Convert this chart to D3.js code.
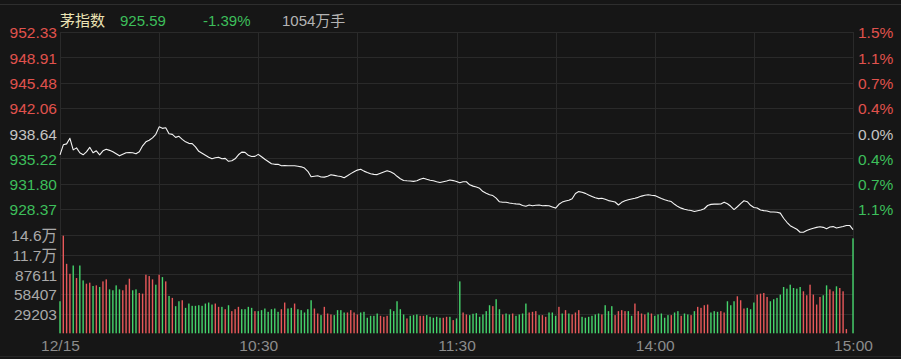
<!DOCTYPE html>
<html lang="zh">
<head>
<meta charset="UTF-8">
<title>茅指数 分时</title>
<style>
    body {
        margin: 0;
        background: #161616;
    }
    svg text {
        font-family: "Liberation Sans", Arial, "Noto Sans CJK SC", sans-serif;
    }
</style>
<script src="https://d3js.org/d3.v7.min.js"></script>
</head>
<body>
<script>

// ---- data ----
const prevClose = 938.64;

const prices = [
    935.71, 937.06, 937.19, 937.94, 936.38, 936.65, 935.98, 935.71, 936.11, 936.72,
    935.98, 936.25, 935.71, 936.25, 936.45, 936.31, 936.11, 935.84, 935.57, 935.77,
    935.98, 936.02, 935.98, 935.84, 936.11, 936.92, 937.46, 937.67, 938.00, 938.48,
    939.49, 939.29, 939.36, 938.55, 938.48, 938.07, 938.21, 937.80, 937.46, 937.26,
    937.22, 936.79, 936.18, 935.91, 935.64, 935.37, 935.17, 935.30, 935.37, 935.17,
    935.23, 934.83, 934.90, 935.17, 935.71, 936.07, 936.04, 935.64, 935.48, 935.50,
    935.77, 935.44, 935.10, 934.80, 934.49, 934.42, 934.42, 934.22, 934.26, 934.22,
    934.22, 934.22, 934.15, 934.08, 933.91, 933.48, 932.73, 932.80, 932.87, 932.70,
    932.69, 932.80, 933.00, 932.93, 932.84, 932.77, 932.60, 932.87, 933.16, 933.41,
    933.64, 933.75, 933.50, 933.30, 933.14, 933.06, 933.03, 933.20, 933.37, 933.54,
    933.41, 933.19, 932.80, 932.46, 932.23, 932.19, 932.16, 932.11, 932.19, 932.39,
    932.54, 932.39, 932.26, 932.19, 932.06, 931.96, 932.06, 932.16, 932.29, 932.22,
    932.10, 931.92, 932.06, 932.06, 931.65, 931.47, 931.34, 931.18, 930.74, 930.50,
    930.30, 930.19, 929.85, 929.35, 929.28, 929.28, 929.18, 929.11, 929.07, 929.04,
    928.84, 928.74, 928.91, 928.81, 928.89, 928.91, 928.81, 928.84, 928.81, 928.65,
    928.50, 929.01, 929.31, 929.46, 929.55, 929.76, 930.47, 930.73, 930.64, 930.49,
    930.26, 930.07, 929.89, 929.78, 929.82, 929.69, 929.51, 929.42, 929.32, 928.92,
    929.28, 929.49, 929.62, 929.73, 929.82, 929.95, 930.12, 930.23, 930.30, 930.23,
    930.19, 930.00, 929.80, 929.62, 929.49, 929.38, 929.01, 928.70, 928.49, 928.34,
    928.24, 928.18, 928.04, 928.14, 928.24, 928.41, 928.85, 929.00, 929.04, 929.04,
    929.05, 929.30, 929.08, 928.74, 928.30, 928.68, 929.11, 929.49, 929.36, 928.88,
    928.57, 928.51, 928.23, 928.15, 928.11, 927.97, 927.96, 927.93, 927.82, 927.12,
    926.58, 926.11, 925.86, 925.63, 925.23, 925.23, 925.46, 925.63, 925.77, 925.89,
    925.97, 925.89, 925.70, 925.93, 925.99, 925.80, 925.90, 926.00, 926.15, 926.15,
    925.59
];

const volumes = [
    47600, 145000, 103200, 88400, 100700, 82100, 100700, 78600, 73700, 75200,
    70300, 71200, 68800, 77100, 80100, 65300, 63900, 71200, 65300, 63900,
    72200, 81100, 63900, 65300, 59900, 58900, 87000, 85000, 80100, 72200,
    87000, 83500, 77100, 55500, 52600, 40300, 47600, 49100, 37800, 44200,
    40800, 40800, 41700, 40800, 44200, 45700, 42700, 44200, 39300, 39300,
    35800, 41700, 32900, 35800, 39300, 35800, 35800, 39300, 37800, 32900,
    32900, 34400, 36800, 31900, 35800, 36800, 31900, 35800, 45700, 36800,
    37800, 44200, 35800,
    34400, 30900, 35800, 49100, 36800, 29400, 27000, 39300, 29400, 28000,
    27000, 34400, 34400, 30900, 30900, 34400, 30900, 28000, 30900, 31900,
    23100, 26000, 26000, 29400, 26000, 24500, 26000, 35800, 32900, 47600,
    35800, 28000, 22100, 26000, 27000, 28000, 26000, 26000, 27000, 24500,
    23100, 24500, 23100, 23100, 24500, 24500, 19600, 22100, 77100,
    30900, 28000, 27000, 29000, 29900, 24500, 28000, 32900, 41700, 40300,
    50600, 35800, 28000, 29400, 28000, 29400, 26000, 28000, 29400, 44200,
    30900, 31900, 32900, 27000, 27000, 24500, 30900, 30900, 26000, 39300,
    29400, 34400, 29400, 28000, 30900, 34400, 24500, 23100, 24500, 26000,
    28000, 29400,
    28000, 41700, 32900, 40300, 27000, 32900, 34400, 32900, 32900, 26000,
    44200, 32900, 29400, 28000, 30900, 29400, 26000, 28000, 29400, 23100,
    27000, 27000, 30900, 32900, 26000, 29400, 28000, 27000, 32900, 39300,
    37800, 41700, 42700, 30900, 32900, 31900, 32900, 30900, 47600, 41700,
    47600, 55000, 49100, 36800, 37800, 35800, 45700, 57500, 58900, 59900,
    54000, 47600, 50600, 52600, 57500, 68800, 66300, 72200, 67300, 66300,
    68800, 62400, 56500, 72200, 57500, 42700, 54000, 56500, 71200, 65300,
    62400, 69800, 67300, 62400, 6300, 0, 141100
];

// r = up minute (red bar), g = down minute (green bar)
const barDirs =
    "grrrgrggrr" + "grgrrggggr" + "rrggrrrrrg" + "rgrgrggrgg" + "gggggggrrg" +
    "rgrrrggggr" + "gggggggrrg" + "grg" +
    "ggggrrgrrr" + "ggggrrrrgg" + "ggggrrrggg" + "ggrgggrrgg" + "gggrrgrgg" +
    "rrgggggggr" + "ggrggrgggg" + "rrrgrrgggr" + "grgrrrgggg" + "gg" +
    "rgggrrrrgg" + "rrrrgrgggg" + "grggrggrgr" + "rrrgggrrgg" + "grrrgggrrr" +
    "rggggggggg" + "grrrrrrggr" + "rgrrr" + "gg";

const priceTicks = [952.33, 948.91, 945.48, 942.06, 938.64, 935.22, 931.80, 928.37];
const pctTicks = ["1.5%", "1.1%", "0.7%", "0.4%", "0.0%", "0.4%", "0.7%", "1.1%"];
const volTicks = [146015, 116812, 87611, 58407, 29203];
const volLabels = ["14.6万", "11.7万", "87611", "58407", "29203"];
const timeIdx = [0, 60, 120, 180, 240];
const timeLabels = ["12/15", "10:30", "11:30", "14:00", "15:00"];
const gridIdx = [0, 30, 60, 90, 120, 150, 180, 210, 240];

const headName = "茅指数";
const headLast = "925.59";
const headChg = "-1.39%";
const headVol = "1054万手";

// ---- look ----
let width = 901;
let height = 359;
let bgColor = "#161616";
let gridColor = "#2a2a2a";
let redText = "#e0524d";
let greenText = "#3dbf5b";
let grayText = "#c4c4c4";
let redBar = "#e8585a";
let greenBar = "#45d46c";

let left = 60, right = 853;
let priceTop = 32, priceBottom = 234.3;
let volTop = 235, volBottom = 333.3;

let svg = d3.select("body").append("svg")
    .attr("width", width)
    .attr("height", height);

svg.append("rect")
    .attr("width", width)
    .attr("height", height)
    .attr("fill", bgColor);

// top and bottom frame lines
svg.append("line")
    .attr("x1", 0).attr("x2", width).attr("y1", 4.5).attr("y2", 4.5)
    .attr("stroke", "#2e2e2e");
svg.append("line")
    .attr("x1", 0).attr("x2", width).attr("y1", 356.5).attr("y2", 356.5)
    .attr("stroke", "#262626");

let x = d3.scaleLinear().domain([0, 240]).range([left, right]);
let y = d3.scaleLinear()
    .domain([prevClose - 4 * 3.4225, prevClose + 4 * 3.4225])
    .range([priceBottom, priceTop]);
let yv = d3.scaleLinear().domain([0, 146015]).range([volBottom, volTop]);

let crisp = v => Math.round(v) + 0.5;

// grid
let grid = svg.append("g").attr("stroke", gridColor).attr("stroke-width", 1);

grid.selectAll(".hp")
    .data(priceTicks)
    .enter()
    .append("line")
    .attr("x1", left).attr("x2", right)
    .attr("y1", d => crisp(y(d))).attr("y2", d => crisp(y(d)));

grid.selectAll(".hv")
    .data(volTicks)
    .enter()
    .append("line")
    .attr("x1", left).attr("x2", right)
    .attr("y1", d => crisp(yv(d))).attr("y2", d => crisp(yv(d)));

grid.selectAll(".vg")
    .data(gridIdx)
    .enter()
    .append("line")
    .attr("x1", d => crisp(x(d))).attr("x2", d => crisp(x(d)))
    .attr("y1", priceTop).attr("y2", volBottom);

// axes (labels only)
function priceColor(d) {
    if (Math.abs(d - prevClose) < 0.005) return grayText;
    return d > prevClose ? redText : greenText;
}

function styleAxis(g, size) {
    g.select(".domain").remove();
    g.selectAll("line").remove();
    g.selectAll("text")
        .attr("font-size", size)
        .attr("font-family", null);
}

let leftAxis = svg.append("g")
    .attr("transform", "translate(" + left + ",1)")
    .call(d3.axisLeft(y).tickValues(priceTicks).tickSize(0).tickPadding(3)
        .tickFormat(d => d.toFixed(2)));
styleAxis(leftAxis, "15.5px");
leftAxis.selectAll("text").attr("fill", d => priceColor(d));

let rightAxis = svg.append("g")
    .attr("transform", "translate(" + right + ",1)")
    .call(d3.axisRight(y).tickValues(priceTicks).tickSize(0).tickPadding(5)
        .tickFormat((d, i) => pctTicks[i]));
styleAxis(rightAxis, "15.5px");
rightAxis.selectAll("text").attr("fill", d => priceColor(d));

let volAxis = svg.append("g")
    .attr("transform", "translate(" + left + ",1)")
    .call(d3.axisLeft(yv).tickValues(volTicks).tickSize(0).tickPadding(3)
        .tickFormat((d, i) => volLabels[i]));
styleAxis(volAxis, "15.5px");
volAxis.selectAll("text").attr("fill", "#a9a9a9");

let timeAxis = svg.append("g")
    .attr("transform", "translate(0,337)")
    .call(d3.axisBottom(x).tickValues(timeIdx).tickSize(0).tickPadding(3)
        .tickFormat((d, i) => timeLabels[i]));
styleAxis(timeAxis, "15.5px");
timeAxis.selectAll("text").attr("fill", "#8c8c8c");

// volume bars
svg.append("g")
    .selectAll("rect")
    .data(volumes)
    .enter()
    .append("rect")
    .attr("x", (d, i) => x(i) - 0.7)
    .attr("width", 1.4)
    .attr("y", d => yv(d))
    .attr("height", d => volBottom - yv(d))
    .attr("fill", (d, i) => barDirs[i] === "r" ? redBar : greenBar);

// price line
let line = d3.line()
    .x((d, i) => x(i))
    .y(d => y(d));

svg.append("path")
    .datum(prices)
    .attr("d", line)
    .attr("fill", "none")
    .attr("stroke", "#f4f4f4")
    .attr("stroke-width", 1.1)
    .attr("stroke-linejoin", "round");

// header
let head = svg.append("g").attr("font-size", "15px");
head.append("text").attr("x", 60).attr("y", 25.5).attr("fill", "#ebe3b4").text(headName);
head.append("text").attr("x", 120).attr("y", 25.5).attr("fill", greenText).text(headLast);
head.append("text").attr("x", 203).attr("y", 25.5).attr("fill", greenText).text(headChg);
head.append("text").attr("x", 282).attr("y", 25.5).attr("fill", "#b4b4b4").text(headVol);

</script>
</body>
</html>
